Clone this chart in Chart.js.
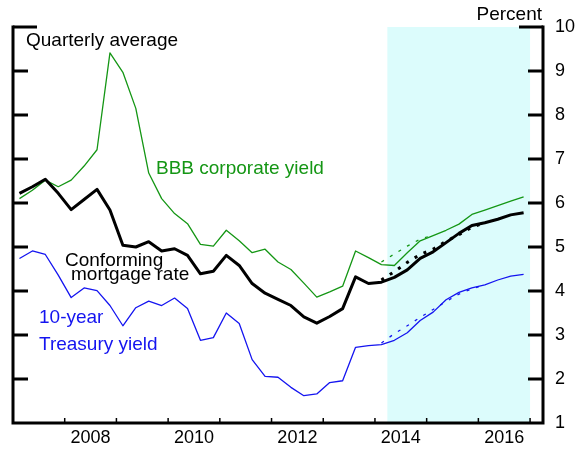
<!DOCTYPE html>
<html>
<head>
<meta charset="utf-8">
<script src="https://cdn.jsdelivr.net/npm/chart.js@4.4.0/dist/chart.umd.min.js"></script>
<style>
body { margin: 0; background: #fff; }
canvas { display: block; }
</style>
</head>
<body>
<canvas id="chart" width="585" height="450"></canvas>
<script>
// quarterly averages, 2007 Q1 .. 2016 Q4
const quarters = [
    '2007Q1', '2007Q2', '2007Q3', '2007Q4', '2008Q1', '2008Q2', '2008Q3', '2008Q4',
    '2009Q1', '2009Q2', '2009Q3', '2009Q4', '2010Q1', '2010Q2', '2010Q3', '2010Q4',
    '2011Q1', '2011Q2', '2011Q3', '2011Q4', '2012Q1', '2012Q2', '2012Q3', '2012Q4',
    '2013Q1', '2013Q2', '2013Q3', '2013Q4', '2014Q1', '2014Q2', '2014Q3', '2014Q4',
    '2015Q1', '2015Q2', '2015Q3', '2015Q4', '2016Q1', '2016Q2', '2016Q3', '2016Q4'
];
const mortgageRate = [
    6.22, 6.37, 6.54, 6.22, 5.85, 6.08, 6.31, 5.84,
    5.04, 5.00, 5.12, 4.91, 4.96, 4.81, 4.39, 4.45,
    4.81, 4.58, 4.17, 3.95, 3.81, 3.67, 3.41, 3.27,
    3.42, 3.60, 4.32, 4.17, 4.20, 4.31, 4.48, 4.74,
    4.89, 5.10, 5.31, 5.49, 5.55, 5.63, 5.73, 5.78
];
const bbbYield = [
    6.10, 6.29, 6.52, 6.37, 6.52, 6.84, 7.21, 9.41,
    8.97, 8.15, 6.68, 6.10, 5.76, 5.53, 5.06, 5.02,
    5.38, 5.14, 4.87, 4.95, 4.66, 4.49, 4.18, 3.86,
    3.98, 4.11, 4.91, 4.76, 4.60, 4.58, 4.87, 5.14,
    5.26, 5.38, 5.52, 5.74, 5.84, 5.94, 6.04, 6.14
];
const treasuryYield = [
    4.74, 4.91, 4.83, 4.36, 3.85, 4.07, 4.01, 3.67,
    3.21, 3.62, 3.77, 3.67, 3.84, 3.60, 2.88, 2.94,
    3.50, 3.26, 2.44, 2.06, 2.04, 1.81, 1.62, 1.66,
    1.92, 1.96, 2.72, 2.76, 2.78, 2.88, 3.05, 3.33,
    3.52, 3.80, 3.97, 4.07, 4.14, 4.25, 4.34, 4.38
];

// alternative (dashed) paths
const altQuarters = ['2014Q1', '2014Q2', '2014Q3', '2014Q4', '2015Q1', '2015Q2', '2015Q3', '2015Q4', '2016Q1'];
const mortgageAlt = [4.25, 4.44, 4.65, 4.83, 4.95, 5.13, 5.28, 5.45, 5.55];
const bbbAlt = [4.66, 4.84, 5.02, 5.18, 5.27];
const treasuryAlt = [2.82, 3.03, 3.21, 3.40, 3.58, 3.76, 3.93, 4.05, 4.14];

const xTickYears = [2008, 2009, 2010, 2011, 2012, 2013, 2014, 2015, 2016, 2017];
const xLabelYears = ['2008', '2010', '2012', '2014', '2016'];
const yTicks = [1, 2, 3, 4, 5, 6, 7, 8, 9, 10];
const forecastStart = 2014.24;
const forecastEnd = 2017;

const GREEN = '#149614';
const BLUE = '#1414f0';
const SHADE = '#dcfcfc';
const FONT = 'Liberation Sans, Arial, sans-serif';

function quarterX(q) {
    const year = parseInt(q.slice(0, 4));
    const n = parseInt(q.slice(5));
    return year + (n - 0.5) / 4;
}

function points(qs, vals) {
    return vals.map((v, i) => ({ x: quarterX(qs[i]), y: v }));
}

const shadePlugin = {
    id: 'shade',
    beforeDatasetsDraw(chart) {
        const ctx = chart.ctx;
        const xs = chart.scales.x, ys = chart.scales.y;
        const x0 = xs.getPixelForValue(forecastStart);
        const x1 = xs.getPixelForValue(forecastEnd);
        const y0 = ys.getPixelForValue(10);
        const y1 = ys.getPixelForValue(1);
        ctx.save();
        ctx.fillStyle = SHADE;
        ctx.fillRect(x0, y0, x1 - x0, y1 - y0);
        ctx.restore();
    }
};

const framePlugin = {
    id: 'frame',
    afterDatasetsDraw(chart) {
        const ctx = chart.ctx;
        const xs = chart.scales.x, ys = chart.scales.y;
        const left = xs.getPixelForValue(2007);
        const right = xs.getPixelForValue(2017.25);
        const top = ys.getPixelForValue(10);
        const bottom = ys.getPixelForValue(1);
        ctx.save();
        ctx.strokeStyle = '#000';
        ctx.lineCap = 'square';
        ctx.lineWidth = 3;
        ctx.beginPath();
        ctx.moveTo(left, top);
        ctx.lineTo(left, bottom);
        ctx.lineTo(right, bottom);
        ctx.lineTo(right, top);
        ctx.stroke();

        ctx.lineCap = 'butt';
        yTicks.forEach(v => {
            if (v === 1) return;
            const y = ys.getPixelForValue(v);
            const len = v === 10 ? 24 : 15;
            ctx.beginPath();
            ctx.moveTo(left, y);
            ctx.lineTo(left + len, y);
            ctx.moveTo(right, y);
            ctx.lineTo(right - len, y);
            ctx.stroke();
        });

        ctx.lineWidth = 1.5;
        xTickYears.forEach(yr => {
            const x = xs.getPixelForValue(yr);
            ctx.beginPath();
            ctx.moveTo(x, bottom);
            ctx.lineTo(x, bottom - 5);
            ctx.stroke();
        });
        ctx.restore();
    },
    afterDraw(chart) {
        const ctx = chart.ctx;
        ctx.save();
        ctx.font = '19px ' + FONT;
        ctx.textBaseline = 'alphabetic';
        ctx.textAlign = 'left';
        ctx.fillStyle = '#000';
        ctx.fillText('Quarterly average', 26, 46);
        ctx.fillText('Conforming', 65, 266);
        ctx.fillText('mortgage rate', 71, 280);
        ctx.fillStyle = GREEN;
        ctx.fillText('BBB corporate yield', 156, 174);
        ctx.fillStyle = BLUE;
        ctx.fillText('10-year', 39, 323);
        ctx.fillText('Treasury yield', 39, 350);
        ctx.fillStyle = '#000';
        ctx.textAlign = 'right';
        ctx.fillText('Percent', 542, 20);
        ctx.restore();
    }
};

new Chart(document.getElementById('chart').getContext('2d'), {
    type: 'line',
    data: {
        datasets: [
            { label: 'Conforming mortgage rate', data: points(quarters, mortgageRate), borderColor: '#000', borderWidth: 3, order: 0 },
            { label: 'Mortgage alt', data: points(altQuarters, mortgageAlt), borderColor: '#000', borderWidth: 3, borderDash: [3, 7], order: 1 },
            { label: 'BBB corporate yield', data: points(quarters, bbbYield), borderColor: GREEN, borderWidth: 1.3, order: 2 },
            { label: 'BBB alt', data: points(altQuarters, bbbAlt), borderColor: GREEN, borderWidth: 1.3, borderDash: [3, 7], order: 2 },
            { label: '10-year Treasury yield', data: points(quarters, treasuryYield), borderColor: BLUE, borderWidth: 1.3, order: 2 },
            { label: 'Treasury alt', data: points(altQuarters, treasuryAlt), borderColor: BLUE, borderWidth: 1.3, borderDash: [3, 7], order: 2 }
        ]
    },
    options: {
        responsive: false,
        animation: false,
        devicePixelRatio: 1,
        layout: { padding: { left: 13, top: 27, right: 0, bottom: 0 } },
        plugins: { legend: { display: false }, tooltip: { enabled: false } },
        elements: {
            point: { radius: 0 },
            line: { tension: 0, fill: false, borderJoinStyle: 'round' }
        },
        scales: {
            x: {
                type: 'linear',
                min: 2007,
                max: 2017.25,
                grid: { display: false, drawTicks: false },
                border: { display: false },
                afterBuildTicks: s => { s.ticks = xLabelYears.map(y => ({ value: parseInt(y) + 0.5 })); },
                afterFit: s => { s.height = 27; },
                ticks: {
                    autoSkip: false,
                    maxRotation: 0,
                    padding: 4,
                    color: '#000',
                    font: { family: FONT, size: 18 },
                    callback: v => String(Math.floor(v))
                }
            },
            y: {
                position: 'right',
                min: 1,
                max: 10,
                grid: { display: false, drawTicks: false },
                border: { display: false },
                afterFit: s => { s.width = 42; },
                ticks: {
                    stepSize: 1,
                    padding: 12,
                    color: '#000',
                    font: { family: FONT, size: 18 }
                }
            }
        }
    },
    plugins: [shadePlugin, framePlugin]
});
</script>
</body>
</html>
